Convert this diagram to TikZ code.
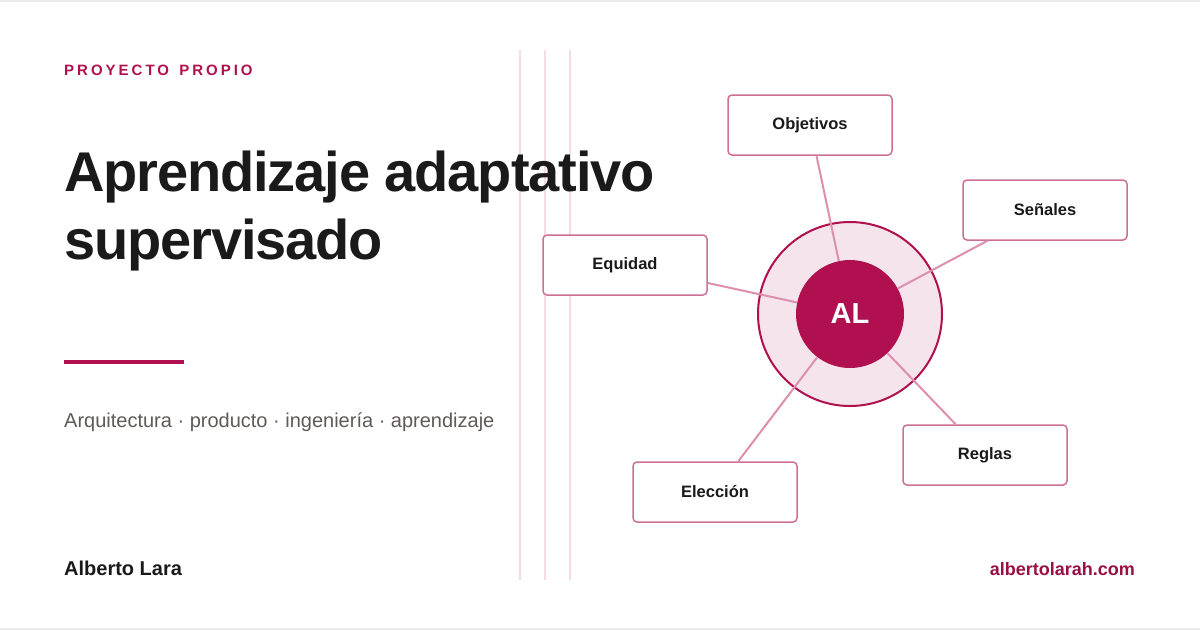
\documentclass[tikz,border=0pt]{standalone}
\usepackage{fontspec}
\setmainfont{Liberation Sans}
\definecolor{accent}{HTML}{B0104F}
\definecolor{ring}{HTML}{F5E4EB}
\definecolor{conn}{HTML}{DD8FAE}
\definecolor{boxline}{HTML}{CF6E96}
\definecolor{vline}{HTML}{F3DCE5}
\definecolor{ink}{HTML}{1A1A1A}
\definecolor{subgray}{HTML}{5F5A55}
\definecolor{urlcol}{HTML}{9B0F47}
\definecolor{edgegray}{HTML}{EBEBEB}
\tikzset{
  topicbox/.style={draw=boxline, line width=1.5pt, fill=white, rounded corners=4pt,
    minimum width=164pt, minimum height=60pt, inner sep=0pt, text=ink,
    font=\bfseries\fontsize{16.5}{20}\selectfont},
  connector/.style={draw=conn, line width=2pt},
  guide/.style={draw=vline, line width=1.6pt},
  lbl/.style={anchor=base west, inner sep=0pt}
}
\begin{document}
\begin{tikzpicture}[x=1pt,y=-1pt]
\useasboundingbox (0,0) rectangle (1200,630);
\fill[white] (0,0) rectangle (1200,630);
\fill[edgegray] (0,0) rectangle (1200,2);
\fill[edgegray] (0,628) rectangle (1200,630);
% guide lines
\draw[guide] (520,50) -- (520,580);
\draw[guide] (545,50) -- (545,580);
\draw[guide] (570,50) -- (570,580);
% left texts
\node[lbl, text=accent, font=\bfseries\fontsize{15}{18}\selectfont\addfontfeature{LetterSpace=20}] (kicker) at (64,75) {PROYECTO\hspace{3pt} PROPIO};
\node[lbl, text=ink, font=\bfseries\fontsize{56}{68}\selectfont\addfontfeature{LetterSpace=-2}] (title1) at (64,191) {Aprendizaje adaptativo};
\node[lbl, text=ink, font=\bfseries\fontsize{56}{68}\selectfont\addfontfeature{LetterSpace=-2}] (title2) at (64,259) {supervisado};
\fill[accent] (64,360) rectangle (184,364);
\node[lbl, text=subgray, font=\fontsize{20}{24}\selectfont] (subtitle) at (64,427) {Arquitectura · producto · ingeniería · aprendizaje};
\node[lbl, text=ink, font=\bfseries\fontsize{20}{24}\selectfont] (author) at (64,575) {Alberto Lara};
\node[anchor=base east, inner sep=0pt, text=urlcol, font=\bfseries\fontsize{18}{22}\selectfont] (url) at (1135,575) {albertolarah.com};
% diagram
\node[circle, fill=ring, draw=accent, line width=2pt, minimum size=184pt, inner sep=0pt] (outer) at (850,314) {};
\node[circle, fill=accent, minimum size=108pt, inner sep=0pt, text=white, font=\bfseries\fontsize{29}{34}\selectfont] (core) at (850,314) {AL};
\node[topicbox] (obj) at (810,125) {Objetivos};
\node[topicbox] (sen) at (1045,210) {Señales};
\node[topicbox] (equ) at (625,265) {Equidad};
\node[topicbox] (reg) at (985,455) {Reglas};
\node[topicbox] (ele) at (715,492) {Elección};
\draw[connector] (obj) -- (core);
\draw[connector] (sen) -- (core);
\draw[connector] (equ) -- (core);
\draw[connector] (reg) -- (core);
\draw[connector] (ele) -- (core);
\end{tikzpicture}
\end{document}
